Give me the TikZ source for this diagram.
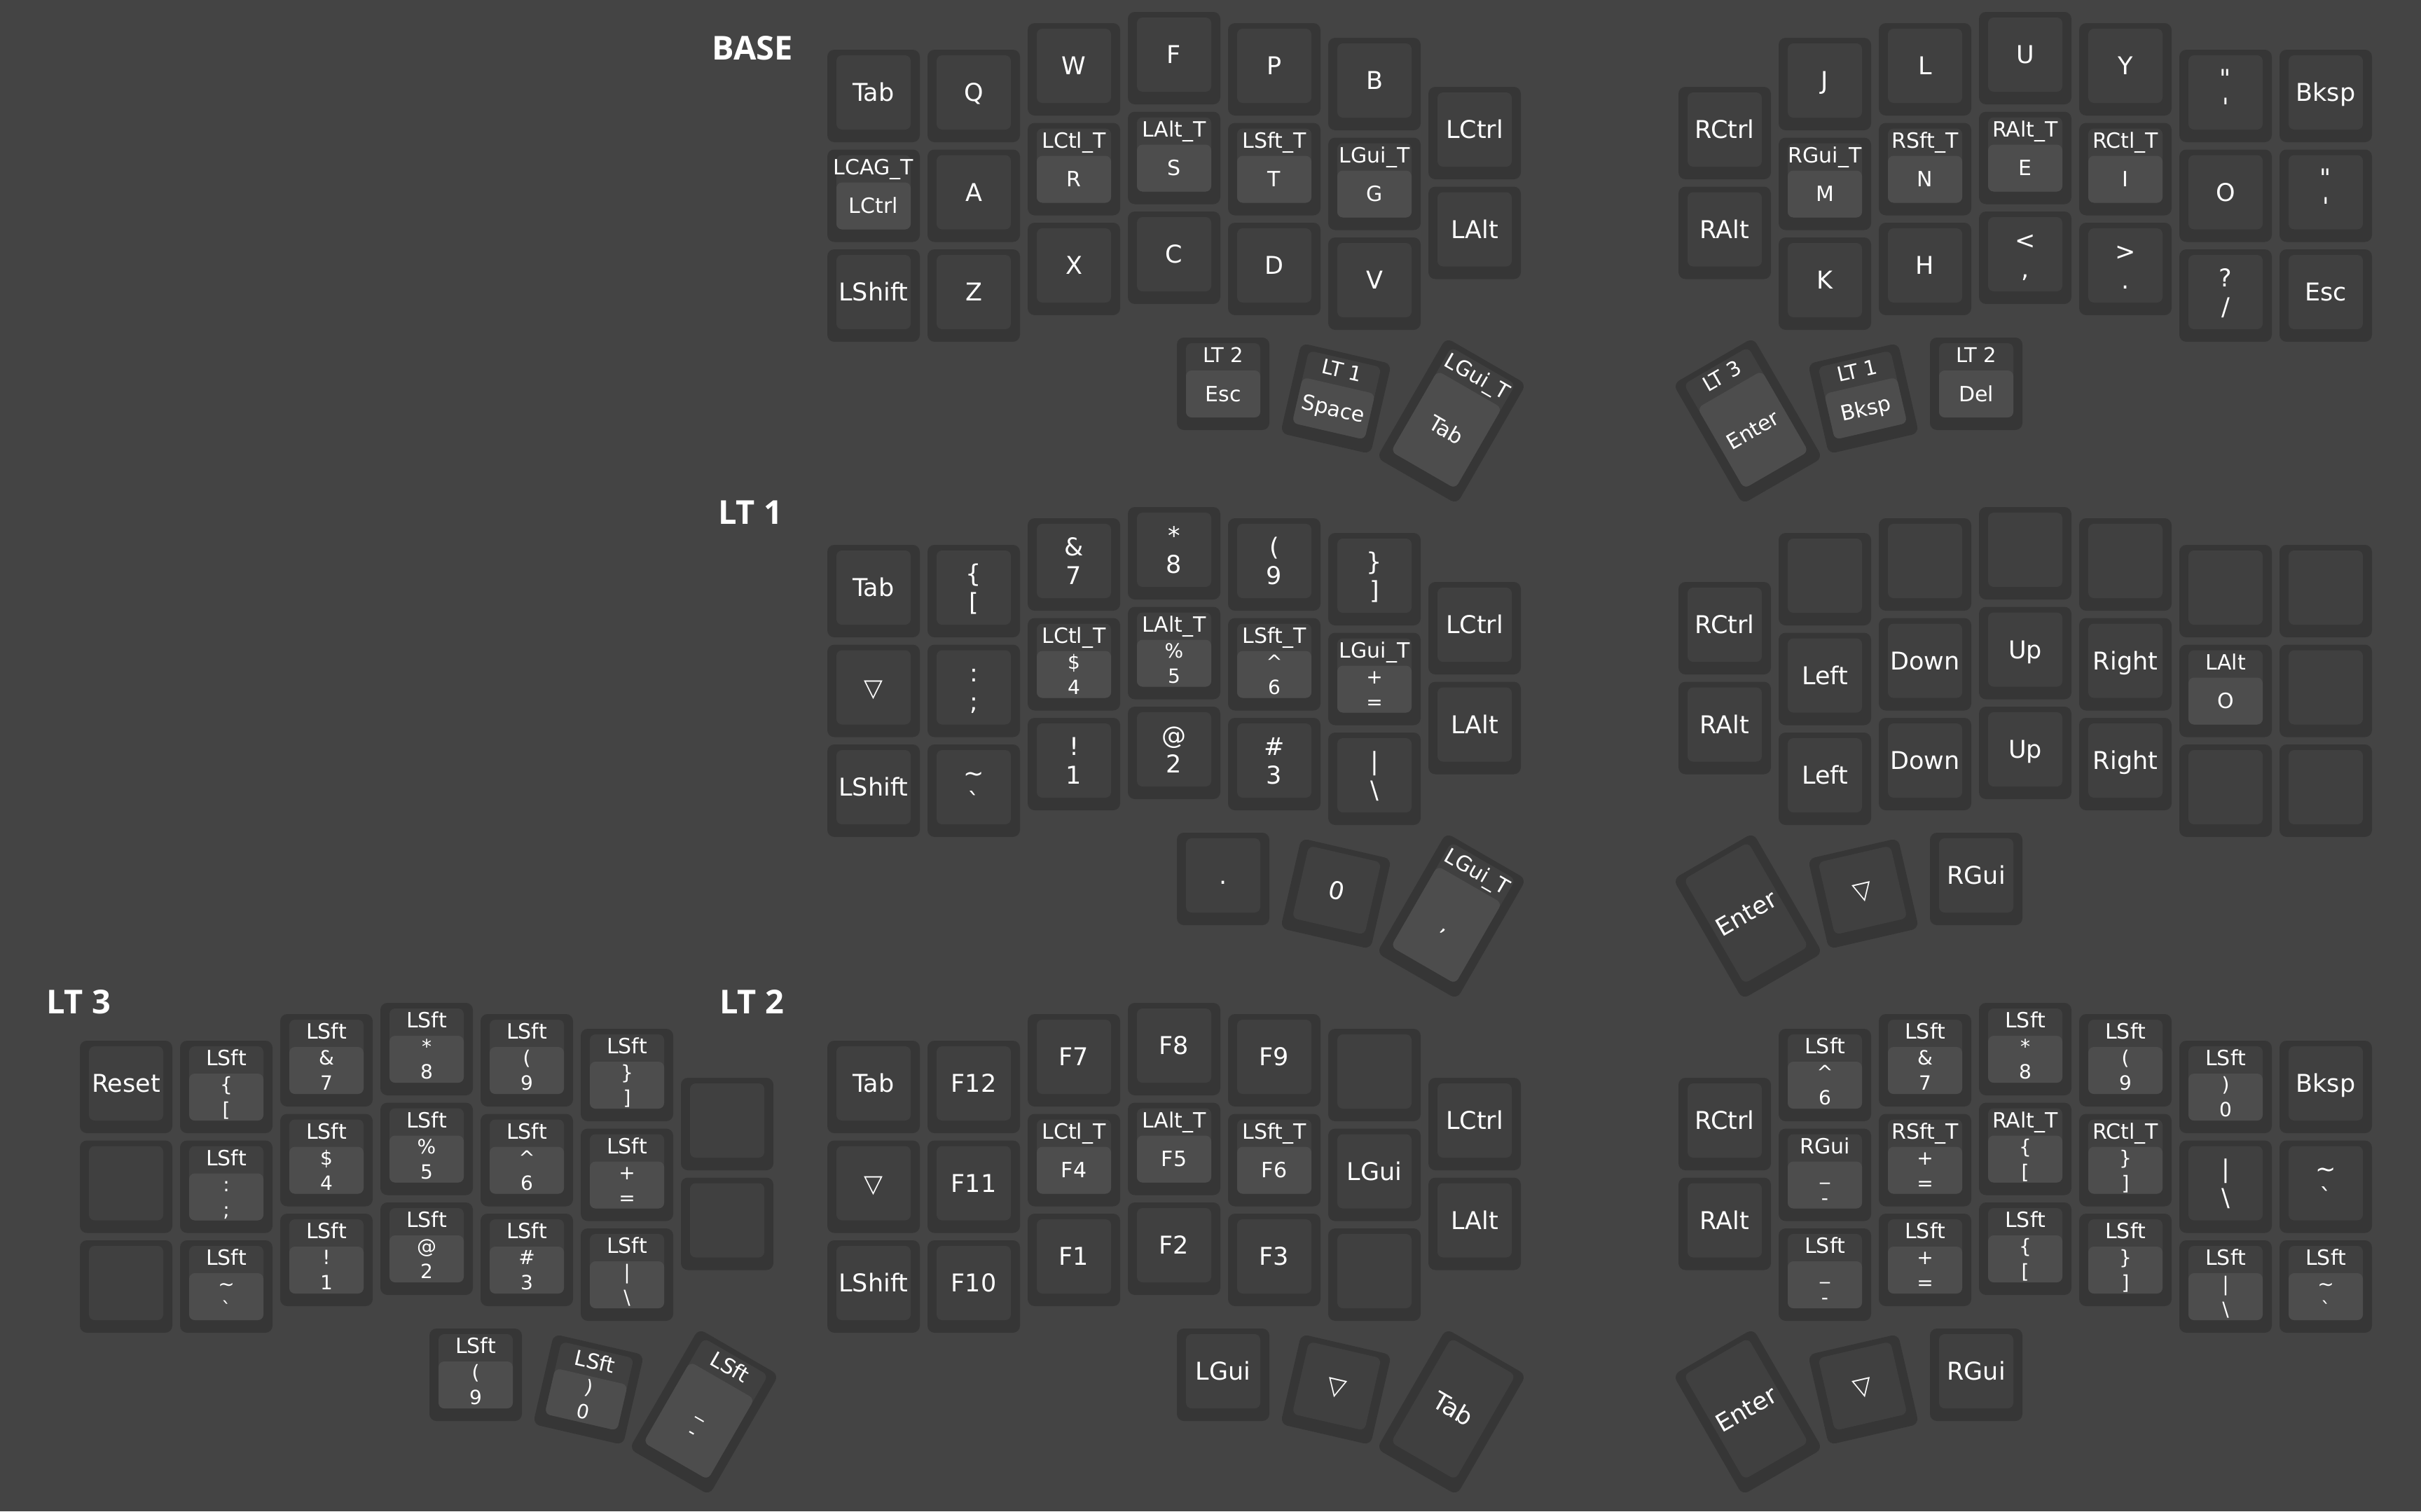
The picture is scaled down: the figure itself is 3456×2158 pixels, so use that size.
\documentclass[tikz,border=0pt]{standalone}
\usepackage{fontspec}
\setmainfont{DejaVu Sans}[Ligatures=TeXOff]
\newfontfamily\ttlfont{Open Sans}
\usepackage{tikz}

\definecolor{kbg}{HTML}{444444}
\definecolor{kside}{HTML}{363636}
\definecolor{ktop}{HTML}{404040}
\definecolor{klit}{HTML}{4D4D4D}

% one key: name, centre, angle, half height, labels
\newcommand{\keyat}[5]{%
  \begin{scope}[shift={#2}, rotate=#3, transform shape]
    \def\kn{#1}\def\kh{#4}%
    \fill[keyside] (-66,-#4) rectangle (66,#4);
    \fill[keytop] (-53,8-#4) rectangle (53,#4-18);
    #5
  \end{scope}}
\newcommand{\lbl}[4]{\node[lab, font=\fontsize{#2}{#2}\selectfont] (\kn-#4) at (0,{#1+0.365*#2}) {#3};}
\newcommand{\pl}[1]{\lbl{-5}{35}{#1}{t}}
\newcommand{\plii}[2]{\lbl{-25.5}{35}{#1}{a}\lbl{15.5}{35}{#2}{b}}
\newcommand{\hk}[3]{\fill[keylit] (-53,47-\kh) rectangle (53,\kh-18);
  \lbl{25-\kh}{#1}{#2}{h}\lbl{14.5}{30}{#3}{t}}
\newcommand{\hkii}[4]{\fill[keylit] (-53,47-\kh) rectangle (53,\kh-18);
  \lbl{25-\kh}{#1}{#2}{h}\lbl{-3.5}{28}{#3}{a}\lbl{32.5}{28}{#4}{b}}
% grid keys of the left and right half, and thumb keys
\newcommand{\lk}[3]{%
  \pgfmathsetmacro\keyx{66+143*#1}%
  \pgfmathsetmacro\colofs{{0,0,-38,-54,-38,-17,53}[#1]}%
  \pgfmathsetmacro\keyy{66+142.5*#2+\colofs}%
  \keyat{\lyr l#1#2}{(\keyx,\keyy)}{0}{66}{#3}}
\newcommand{\rk}[3]{%
  \pgfmathsetmacro\keyx{1281+143*#1}%
  \pgfmathsetmacro\colofs{{53,-17,-38,-54,-38,0,0}[#1]}%
  \pgfmathsetmacro\keyy{66+142.5*#2+\colofs}%
  \keyat{\lyr r#1#2}{(\keyx,\keyy)}{0}{66}{#3}}
\newcommand{\tk}[5]{\keyat{\lyr#1}{#2}{#3}{#4}{#5}}
\newcommand{\tri}{▽}

\begin{document}
\begin{tikzpicture}[x=1pt, y=-1pt,
  keyside/.style={fill=kside, rounded corners=10pt},
  keytop/.style={fill=ktop, rounded corners=8pt},
  keylit/.style={fill=klit, rounded corners=8pt},
  lab/.style={anchor=base, text=white, inner sep=0pt},
  ttl/.style={anchor=base, text=white, inner sep=0pt,
              font=\ttlfont\bfseries\fontsize{47}{47}\selectfont},
]
  \fill[kbg] (0,0) rectangle (3456,2158);
  \useasboundingbox (0,0) rectangle (3456,2158);

  \node[ttl] (tbase) at (1074,85)   {BASE};
  \node[ttl] (tlt1)  at (1071,748)  {LT 1};
  \node[ttl] (tlt2)  at (1073,1447) {LT 2};
  \node[ttl] (tlt3)  at (112,1447)  {LT 3};

  % BASE
  \begin{scope}[shift={(1181,71)}]
    \def\lyr{b}
    \lk{0}{0}{\pl{Tab}}   \lk{0}{1}{\hk{30}{LCAG\_T}{LCtrl}} \lk{0}{2}{\pl{LShift}}
    \lk{1}{0}{\pl{Q}}     \lk{1}{1}{\pl{A}}                  \lk{1}{2}{\pl{Z}}
    \lk{2}{0}{\pl{W}}     \lk{2}{1}{\hk{30}{LCtl\_T}{R}}     \lk{2}{2}{\pl{X}}
    \lk{3}{0}{\pl{F}}     \lk{3}{1}{\hk{30}{LAlt\_T}{S}}     \lk{3}{2}{\pl{C}}
    \lk{4}{0}{\pl{P}}     \lk{4}{1}{\hk{30}{LSft\_T}{T}}     \lk{4}{2}{\pl{D}}
    \lk{5}{0}{\pl{B}}     \lk{5}{1}{\hk{30}{LGui\_T}{G}}     \lk{5}{2}{\pl{V}}
    \lk{6}{0}{\pl{LCtrl}} \lk{6}{1}{\pl{LAlt}}
    \tk{t0}{(565,477)}{0}{66}{\hk{29}{LT 2}{Esc}}
    \tk{t1}{(726,498)}{-13}{66}{\hk{29}{LT 1}{Space}}
    \tk{t2}{(891,530)}{-30}{99}{\hk{30}{LGui\_T}{Tab}}
    \rk{0}{0}{\pl{RCtrl}} \rk{0}{1}{\pl{RAlt}}
    \rk{1}{0}{\pl{J}}     \rk{1}{1}{\hk{30}{RGui\_T}{M}}     \rk{1}{2}{\pl{K}}
    \rk{2}{0}{\pl{L}}     \rk{2}{1}{\hk{30}{RSft\_T}{N}}     \rk{2}{2}{\pl{H}}
    \rk{3}{0}{\pl{U}}     \rk{3}{1}{\hk{30}{RAlt\_T}{E}}     \rk{3}{2}{\plii{<}{,}}
    \rk{4}{0}{\pl{Y}}     \rk{4}{1}{\hk{30}{RCtl\_T}{I}}     \rk{4}{2}{\plii{>}{.}}
    \rk{5}{0}{\plii{"}{'}} \rk{5}{1}{\pl{O}}                 \rk{5}{2}{\plii{?}{/}}
    \rk{6}{0}{\pl{Bksp}}  \rk{6}{1}{\plii{"}{'}}             \rk{6}{2}{\pl{Esc}}
    \tk{t3}{(1314,530)}{30}{99}{\hk{29}{LT 3}{Enter}}
    \tk{t4}{(1479,498)}{13}{66}{\hk{29}{LT 1}{Bksp}}
    \tk{t5}{(1640,477)}{0}{66}{\hk{29}{LT 2}{Del}}
  \end{scope}

  % LT 1
  \begin{scope}[shift={(1181,778)}]
    \def\lyr{a}
    \lk{0}{0}{\pl{Tab}}             \lk{0}{1}{\pl{\tri}}                   \lk{0}{2}{\pl{LShift}}
    \lk{1}{0}{\plii{\{}{[}}         \lk{1}{1}{\plii{:}{;}}                 \lk{1}{2}{\plii{\textasciitilde}{`}}
    \lk{2}{0}{\plii{\&}{7}}         \lk{2}{1}{\hkii{30}{LCtl\_T}{\$}{4}}   \lk{2}{2}{\plii{!}{1}}
    \lk{3}{0}{\plii{*}{8}}          \lk{3}{1}{\hkii{30}{LAlt\_T}{\%}{5}}   \lk{3}{2}{\plii{@}{2}}
    \lk{4}{0}{\plii{(}{9}}          \lk{4}{1}{\hkii{30}{LSft\_T}{\textasciicircum}{6}} \lk{4}{2}{\plii{\#}{3}}
    \lk{5}{0}{\plii{\}}{]}}         \lk{5}{1}{\hkii{30}{LGui\_T}{+}{=}}    \lk{5}{2}{\plii{|}{\textbackslash}}
    \lk{6}{0}{\pl{LCtrl}}           \lk{6}{1}{\pl{LAlt}}
    \tk{t0}{(565,477)}{0}{66}{\pl{.}}
    \tk{t1}{(726,498)}{-13}{66}{\pl{0}}
    \tk{t2}{(891,530)}{-30}{99}{\hk{30}{LGui\_T}{,}}
    \rk{0}{0}{\pl{RCtrl}} \rk{0}{1}{\pl{RAlt}}
    \rk{1}{0}{} \rk{1}{1}{\pl{Left}}  \rk{1}{2}{\pl{Left}}
    \rk{2}{0}{} \rk{2}{1}{\pl{Down}}  \rk{2}{2}{\pl{Down}}
    \rk{3}{0}{} \rk{3}{1}{\pl{Up}}    \rk{3}{2}{\pl{Up}}
    \rk{4}{0}{} \rk{4}{1}{\pl{Right}} \rk{4}{2}{\pl{Right}}
    \rk{5}{0}{} \rk{5}{1}{\hk{30}{LAlt}{O}} \rk{5}{2}{}
    \rk{6}{0}{} \rk{6}{1}{} \rk{6}{2}{}
    \tk{t3}{(1314,530)}{30}{99}{\pl{Enter}}
    \tk{t4}{(1479,498)}{13}{66}{\pl{\tri}}
    \tk{t5}{(1640,477)}{0}{66}{\pl{RGui}}
  \end{scope}

  % LT 2
  \begin{scope}[shift={(1181,1486)}]
    \def\lyr{c}
    \lk{0}{0}{\pl{Tab}}   \lk{0}{1}{\pl{\tri}}             \lk{0}{2}{\pl{LShift}}
    \lk{1}{0}{\pl{F12}}   \lk{1}{1}{\pl{F11}}              \lk{1}{2}{\pl{F10}}
    \lk{2}{0}{\pl{F7}}    \lk{2}{1}{\hk{30}{LCtl\_T}{F4}}  \lk{2}{2}{\pl{F1}}
    \lk{3}{0}{\pl{F8}}    \lk{3}{1}{\hk{30}{LAlt\_T}{F5}}  \lk{3}{2}{\pl{F2}}
    \lk{4}{0}{\pl{F9}}    \lk{4}{1}{\hk{30}{LSft\_T}{F6}}  \lk{4}{2}{\pl{F3}}
    \lk{5}{0}{}           \lk{5}{1}{\pl{LGui}}             \lk{5}{2}{}
    \lk{6}{0}{\pl{LCtrl}} \lk{6}{1}{\pl{LAlt}}
    \tk{t0}{(565,477)}{0}{66}{\pl{LGui}}
    \tk{t1}{(726,498)}{-13}{66}{\pl{\tri}}
    \tk{t2}{(891,530)}{-30}{99}{\pl{Tab}}
    \rk{0}{0}{\pl{RCtrl}} \rk{0}{1}{\pl{RAlt}}
    \rk{1}{0}{\hkii{30}{LSft}{\textasciicircum}{6}} \rk{1}{1}{\hkii{30}{RGui}{\_}{-}}     \rk{1}{2}{\hkii{30}{LSft}{\_}{-}}
    \rk{2}{0}{\hkii{30}{LSft}{\&}{7}}  \rk{2}{1}{\hkii{30}{RSft\_T}{+}{=}}    \rk{2}{2}{\hkii{30}{LSft}{+}{=}}
    \rk{3}{0}{\hkii{30}{LSft}{*}{8}}   \rk{3}{1}{\hkii{30}{RAlt\_T}{\{}{[}}   \rk{3}{2}{\hkii{30}{LSft}{\{}{[}}
    \rk{4}{0}{\hkii{30}{LSft}{(}{9}}   \rk{4}{1}{\hkii{30}{RCtl\_T}{\}}{]}}   \rk{4}{2}{\hkii{30}{LSft}{\}}{]}}
    \rk{5}{0}{\hkii{30}{LSft}{)}{0}}   \rk{5}{1}{\plii{|}{\textbackslash}}    \rk{5}{2}{\hkii{30}{LSft}{|}{\textbackslash}}
    \rk{6}{0}{\pl{Bksp}}               \rk{6}{1}{\plii{\textasciitilde}{`}}   \rk{6}{2}{\hkii{30}{LSft}{\textasciitilde}{`}}
    \tk{t3}{(1314,530)}{30}{99}{\pl{Enter}}
    \tk{t4}{(1479,498)}{13}{66}{\pl{\tri}}
    \tk{t5}{(1640,477)}{0}{66}{\pl{RGui}}
  \end{scope}

  % LT 3
  \begin{scope}[shift={(114,1486)}]
    \def\lyr{d}
    \lk{0}{0}{\pl{Reset}} \lk{0}{1}{} \lk{0}{2}{}
    \lk{1}{0}{\hkii{30}{LSft}{\{}{[}} \lk{1}{1}{\hkii{30}{LSft}{:}{;}} \lk{1}{2}{\hkii{30}{LSft}{\textasciitilde}{`}}
    \lk{2}{0}{\hkii{30}{LSft}{\&}{7}} \lk{2}{1}{\hkii{30}{LSft}{\$}{4}} \lk{2}{2}{\hkii{30}{LSft}{!}{1}}
    \lk{3}{0}{\hkii{30}{LSft}{*}{8}}  \lk{3}{1}{\hkii{30}{LSft}{\%}{5}} \lk{3}{2}{\hkii{30}{LSft}{@}{2}}
    \lk{4}{0}{\hkii{30}{LSft}{(}{9}}  \lk{4}{1}{\hkii{30}{LSft}{\textasciicircum}{6}} \lk{4}{2}{\hkii{30}{LSft}{\#}{3}}
    \lk{5}{0}{\hkii{30}{LSft}{\}}{]}} \lk{5}{1}{\hkii{30}{LSft}{+}{=}}  \lk{5}{2}{\hkii{30}{LSft}{|}{\textbackslash}}
    \lk{6}{0}{} \lk{6}{1}{}
    \tk{t0}{(565,477)}{0}{66}{\hkii{30}{LSft}{(}{9}}
    \tk{t1}{(726,498)}{-13}{66}{\hkii{30}{LSft}{)}{0}}
    \tk{t2}{(891,530)}{-30}{99}{\hkii{30}{LSft}{\_}{-}}
  \end{scope}
\end{tikzpicture}
\end{document}
